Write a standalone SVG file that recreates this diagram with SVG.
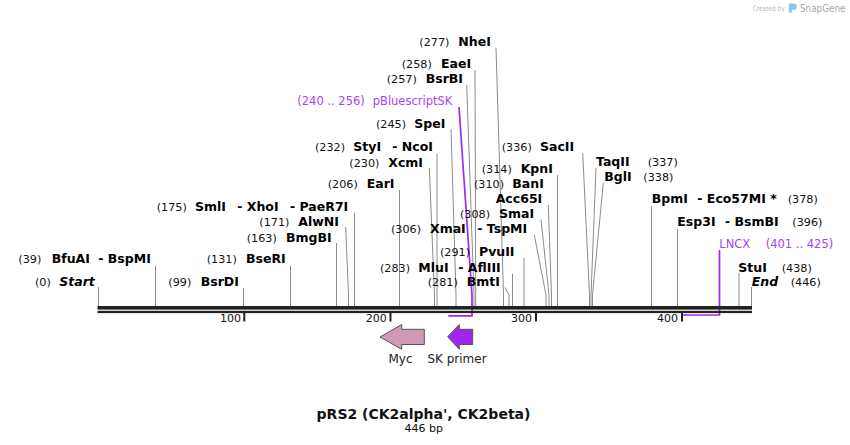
<svg xmlns="http://www.w3.org/2000/svg" width="850" height="445" viewBox="0 0 850 445">
<style>
.n{font-family:"DejaVu Sans",Verdana,sans-serif;font-size:11.2px;fill:#111}
.b{font-family:"DejaVu Sans",Verdana,sans-serif;font-size:12.5px;font-weight:bold;fill:#000}
.bi{font-family:"DejaVu Sans",Verdana,sans-serif;font-size:12.5px;font-weight:bold;font-style:italic;fill:#000}
.f{font-family:"DejaVu Sans",Verdana,sans-serif;font-size:11.5px;fill:#a445f2}
.t{font-family:"DejaVu Sans",Verdana,sans-serif;font-size:11px;fill:#111}
.lab{font-family:"DejaVu Sans",Verdana,sans-serif;font-size:12px;fill:#222;text-anchor:middle}
.cut{stroke:#8c8c8c;stroke-width:1;fill:none}
.feat{stroke:#9d2bef;stroke-width:1.7;fill:none}
.arr{stroke:#555;stroke-width:1}
</style>
<rect width="850" height="445" fill="#fff"/>

<!-- watermark -->
<g id="watermark">
<text x="752.7" y="10.5" textLength="32" lengthAdjust="spacingAndGlyphs" style="font-family:'DejaVu Sans',sans-serif;font-size:7.5px;fill:#b5b9bd">Created by</text>
<path d="M789 3.5h4.5a3.2 3.2 0 0 1 0 6.4h-1.6v2.8h-2.9z" fill="#8cc6ee"/>
<text x="800" y="12" textLength="45.5" lengthAdjust="spacingAndGlyphs" style="font-family:'DejaVu Sans',sans-serif;font-size:10px;fill:#a3abb4">SnapGene</text>
</g>

<!-- connectors -->
<g id="connectors">
<path class="cut" d="M98.5 287V306M155.5 266V306M243.5 288V306M290.5 266V306M336.5 243V306M345.7 227L348.5 295V306M354.5 213V306M399.5 190V306M429.3 168L434.5 295V306M437 154V306M451 129L456 295V306M466.7 85L474 295V306M475 70L475.7 295V306M496 48L503.5 295V306M505 287.5L509 295V306M512.5 274V306M524 258V306M534.3 235L546 295V306M541 219.5L549 295V306M548.3 205L551.5 295V306M557.5 175V306M582.7 153L589.5 295V306M596 168L591 295V306M603.3 183L592.5 295V306M651.5 206V306M677.5 229V306M739 273V306M751.5 287V306"/>
<path class="feat" d="M459 107L472 295V315.8H448.3"/>
<path class="feat" d="M719.5 250V315H682"/>
</g>

<!-- sequence -->
<g id="sequence">
<rect x="97.5" y="306" width="654.5" height="3.6" fill="#222"/>
<rect x="97.5" y="310.8" width="654.5" height="2.3" fill="#222"/>
<rect x="243.3" y="313" width="2" height="8.5" fill="#222"/>
<rect x="389.5" y="313" width="2" height="8.5" fill="#222"/>
<rect x="535" y="313" width="2" height="8.5" fill="#222"/>
<rect x="681" y="313" width="2" height="8.5" fill="#222"/>
<text class="t" x="241" y="321.5" text-anchor="end">100</text>
<text class="t" x="386.7" y="321.5" text-anchor="end">200</text>
<text class="t" x="532" y="321.5" text-anchor="end">300</text>
<text class="t" x="678" y="321.5" text-anchor="end">400</text>
</g>

<!-- site labels -->
<g id="start"><text class="n" x="35" y="285.5">(0)</text><text class="bi" x="59.3" y="285.5">Start</text></g>
<g id="bfuai"><text class="n" x="18.3" y="263">(39)</text><text class="b" x="51.7" y="263">BfuAI</text><text class="b" x="98.3" y="263">- BspMI</text></g>
<g id="bsrdi"><text class="n" x="168.3" y="285.5">(99)</text><text class="b" x="200.7" y="285.5">BsrDI</text></g>
<g id="bseri"><text class="n" x="206.7" y="263">(131)</text><text class="b" x="246" y="263">BseRI</text></g>
<g id="bmgbi"><text class="n" x="246.7" y="241.5">(163)</text><text class="b" x="286" y="241.5">BmgBI</text></g>
<g id="alwni"><text class="n" x="259.3" y="226">(171)</text><text class="b" x="298.3" y="226">AlwNI</text></g>
<g id="smli"><text class="n" x="156.7" y="211">(175)</text><text class="b" x="195" y="211">SmlI</text><text class="b" x="237.3" y="211">- XhoI</text><text class="b" x="290" y="211">- PaeR7I</text></g>
<g id="eari"><text class="n" x="327.7" y="188">(206)</text><text class="b" x="366.7" y="188">EarI</text></g>
<g id="xcmi"><text class="n" x="349.3" y="166.5">(230)</text><text class="b" x="388.3" y="166.5">XcmI</text></g>
<g id="styi"><text class="n" x="315" y="151">(232)</text><text class="b" x="353.3" y="151">StyI</text><text class="b" x="392.3" y="151">- NcoI</text></g>
<g id="spei"><text class="n" x="376" y="128">(245)</text><text class="b" x="414.3" y="128">SpeI</text></g>
<g id="pbluescriptsk"><text class="f" x="297.3" y="105">(240 .. 256)</text><text class="f" x="372.7" y="105">pBluescriptSK</text></g>
<g id="bsrbi"><text class="n" x="386.7" y="83">(257)</text><text class="b" x="425.7" y="83">BsrBI</text></g>
<g id="eaei"><text class="n" x="401.7" y="68">(258)</text><text class="b" x="441" y="68">EaeI</text></g>
<g id="nhei"><text class="n" x="419.3" y="46">(277)</text><text class="b" x="458.3" y="46">NheI</text></g>
<g id="sacii"><text class="n" x="501.7" y="151">(336)</text><text class="b" x="540" y="151">SacII</text></g>
<g id="kpni"><text class="n" x="481.7" y="172.5">(314)</text><text class="b" x="520.7" y="172.5">KpnI</text></g>
<g id="bani"><text class="n" x="474" y="188">(310)</text><text class="b" x="512.3" y="188">BanI</text><text class="b" x="495.7" y="203">Acc65I</text></g>
<g id="smai"><text class="n" x="460" y="218">(308)</text><text class="b" x="499" y="218">SmaI</text></g>
<g id="xmai"><text class="n" x="391" y="233">(306)</text><text class="b" x="430" y="233">XmaI</text><text class="b" x="477.3" y="233">- TspMI</text></g>
<g id="pvuii"><text class="n" x="440" y="256">(291)</text><text class="b" x="479" y="256">PvuII</text></g>
<g id="mlui"><text class="n" x="380" y="271.5">(283)</text><text class="b" x="418.3" y="271.5">MluI</text><text class="b" x="458.3" y="271.5">- AflIII</text></g>
<g id="bmti"><text class="n" x="427.7" y="286">(281)</text><text class="b" x="466.7" y="286">BmtI</text></g>
<g id="taqii"><text class="b" x="596" y="165.5">TaqII</text><text class="n" x="647.7" y="165.5">(337)</text></g>
<g id="bgli"><text class="b" x="604.3" y="181">BglI</text><text class="n" x="643.3" y="181">(338)</text></g>
<g id="bpmi"><text class="b" x="651.7" y="203">BpmI</text><text class="b" x="697.3" y="203">- Eco57MI *</text><text class="n" x="787.7" y="203">(378)</text></g>
<g id="esp3i"><text class="b" x="677.3" y="226">Esp3I</text><text class="b" x="725" y="226">- BsmBI</text><text class="n" x="792.3" y="226">(396)</text></g>
<g id="lncx"><text class="f" x="719.3" y="248">LNCX</text><text class="f" x="765.7" y="248">(401 .. 425)</text></g>
<g id="stui"><text class="b" x="738.3" y="271.5">StuI</text><text class="n" x="781.7" y="271.5">(438)</text></g>
<g id="end"><text class="bi" x="751.7" y="286">End</text><text class="n" x="790.7" y="286">(446)</text></g>

<!-- features -->
<g id="myc">
<polygon class="arr" points="380,337 401.7,324.5 401.7,329.3 424.3,329.3 424.3,344.5 401.7,344.5 401.7,349.3" fill="#cc9ab4"/>
<text class="lab" x="400.5" y="362.5">Myc</text>
</g>
<g id="sk-primer">
<polygon class="arr" points="447.7,336.8 459.3,324.5 459.3,329.3 472.7,329.3 472.7,344.5 459.3,344.5 459.3,349.3" fill="#a026ee"/>
<text class="lab" x="457" y="362.5">SK primer</text>
</g>

<!-- title -->
<g id="title">
<text x="423.5" y="419" text-anchor="middle" style="font-family:'DejaVu Sans',Verdana,sans-serif;font-size:14px;font-weight:bold;fill:#111">pRS2 (CK2alpha', CK2beta)</text>
<text x="423.8" y="431.5" text-anchor="middle" class="t">446 bp</text>
</g>
</svg>
